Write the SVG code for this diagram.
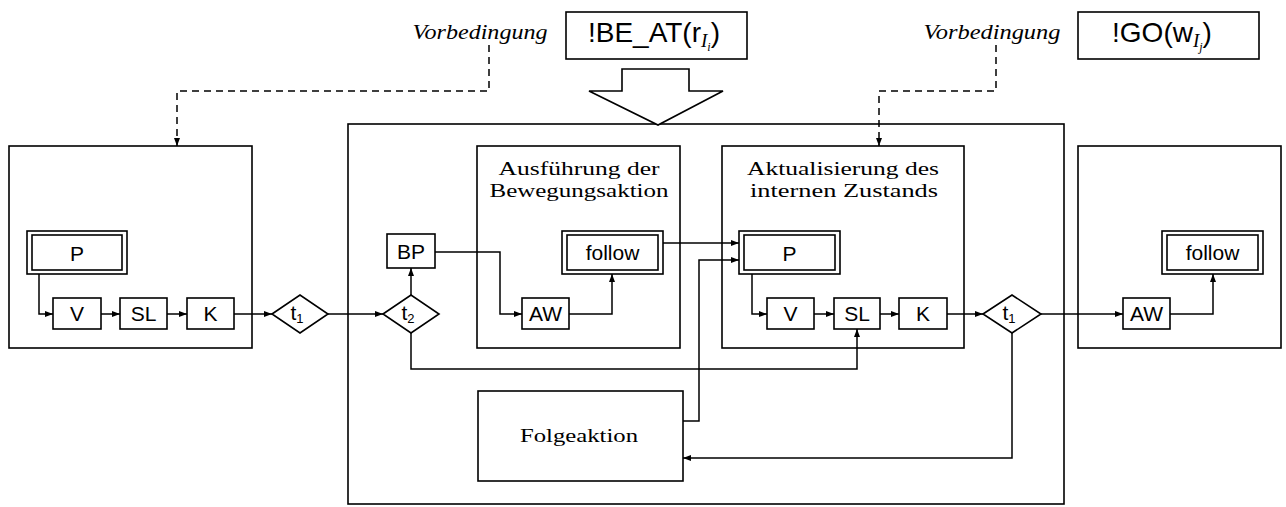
<svg xmlns="http://www.w3.org/2000/svg" width="1286" height="507" viewBox="0 0 1286 507">
<defs>
<marker id="ah" markerWidth="9" markerHeight="7" refX="8" refY="3.5" orient="auto" markerUnits="userSpaceOnUse">
<path d="M0,0.5 L8,3.5 L0,6.5 z" fill="#000"/>
</marker>
</defs>
<style>
.b{fill:#fff;stroke:#000;stroke-width:1.6}
.c{fill:none;stroke:#000;stroke-width:1.5;marker-end:url(#ah)}
.d{fill:none;stroke:#000;stroke-width:1.5;stroke-dasharray:7 5;marker-end:url(#ah)}
.s{font-family:"Liberation Sans",Arial,sans-serif;font-size:21px;text-anchor:middle;fill:#000}
.t{font-family:"Liberation Serif","Times New Roman",serif;font-size:19px;text-anchor:middle;fill:#000}
.i{font-family:"Liberation Serif","Times New Roman",serif;font-style:italic;font-size:20px;text-anchor:middle;fill:#000}
.big{font-family:"Liberation Sans",Arial,sans-serif;font-size:28px;text-anchor:middle;fill:#000}
.sub{font-family:"Liberation Serif","Times New Roman",serif;font-style:italic}
</style>
<rect width="1286" height="507" fill="#fff"/>

<g id="frames">
<rect id="leftState" class="b" x="9" y="146" width="243" height="202"/>
<rect id="midState" class="b" x="348" y="124" width="716" height="380"/>
<rect id="rightState" class="b" x="1078" y="146" width="203" height="202"/>
</g>

<g id="preconditions">
<text class="i" x="480" y="39" textLength="135" lengthAdjust="spacingAndGlyphs">Vorbedingung</text>
<text class="i" x="992" y="39" textLength="137" lengthAdjust="spacingAndGlyphs">Vorbedingung</text>
</g>

<g id="beat">
<rect class="b" x="566" y="12" width="181" height="47"/>
<text class="big" x="654" y="42">!BE_AT(r<tspan class="sub" font-size="19" dy="5">I</tspan><tspan class="sub" font-size="12" dy="4">i</tspan><tspan dy="-9">)</tspan></text>
</g>
<g id="go">
<rect class="b" x="1078" y="12" width="181" height="47"/>
<text class="big" x="1162" y="42">!GO(w<tspan class="sub" font-size="19" dy="5">I</tspan><tspan class="sub" font-size="12" dy="4">j</tspan><tspan dy="-9">)</tspan></text>
</g>
<g id="bigArrow">
<polygon class="b" points="622,69 689,69 689,91 723,91 658,125 589,91 622,91"/>
</g>

<g id="ausfuehrung">
<rect class="b" x="477" y="146" width="203" height="202"/>
<text class="t" x="579" y="175" textLength="161" lengthAdjust="spacingAndGlyphs">Ausführung der</text>
<text class="t" x="579" y="197" textLength="179" lengthAdjust="spacingAndGlyphs">Bewegungsaktion</text>
</g>
<g id="aktualisierung">
<rect class="b" x="722" y="146" width="242" height="202"/>
<text class="t" x="843" y="175" textLength="192" lengthAdjust="spacingAndGlyphs">Aktualisierung des</text>
<text class="t" x="844" y="197" textLength="188" lengthAdjust="spacingAndGlyphs">internen Zustands</text>
</g>
<g id="folgeaktion">
<rect class="b" x="478" y="391" width="205" height="90"/>
<text class="t" x="579" y="442" textLength="118" lengthAdjust="spacingAndGlyphs">Folgeaktion</text>
</g>

<g id="L_P"><rect class="b" x="27" y="231" width="100" height="43"/><rect class="b" x="32" y="235" width="90" height="35"/><text class="s" x="77" y="261">P</text></g>
<g id="L_V"><rect class="b" x="53" y="298" width="48" height="31"/><text class="s" x="77" y="321">V</text></g>
<g id="L_SL"><rect class="b" x="120" y="298" width="47" height="31"/><text class="s" x="143.5" y="321">SL</text></g>
<g id="L_K"><rect class="b" x="187" y="298" width="47" height="31"/><text class="s" x="210.5" y="321">K</text></g>
<g id="L_t1"><polygon class="b" points="272,314 300,295 328,314 300,333"/><text class="s" x="297" y="320" font-size="19">t<tspan font-size="13" dy="3">1</tspan></text></g>

<g id="M_t2"><polygon class="b" points="383,314 411,295 439,314 411,333"/><text class="s" x="408" y="320" font-size="19">t<tspan font-size="13" dy="3">2</tspan></text></g>
<g id="M_BP"><rect class="b" x="387" y="234" width="48" height="34"/><text class="s" x="411" y="259">BP</text></g>
<g id="M_AW"><rect class="b" x="522" y="298" width="47" height="31"/><text class="s" x="545.5" y="321">AW</text></g>
<g id="M_follow"><rect class="b" x="562" y="231" width="101" height="43"/><rect class="b" x="567" y="235" width="91" height="35"/><text class="s" x="612.5" y="260">follow</text></g>

<g id="A_P"><rect class="b" x="739" y="231" width="101" height="43"/><rect class="b" x="744" y="235" width="91" height="35"/><text class="s" x="789.5" y="261">P</text></g>
<g id="A_V"><rect class="b" x="767" y="298" width="47" height="31"/><text class="s" x="790.5" y="321">V</text></g>
<g id="A_SL"><rect class="b" x="834" y="298" width="46" height="31"/><text class="s" x="857" y="321">SL</text></g>
<g id="A_K"><rect class="b" x="899" y="298" width="48" height="31"/><text class="s" x="923" y="321">K</text></g>
<g id="A_t1"><polygon class="b" points="983,314 1012,295 1041,314 1012,333"/><text class="s" x="1009" y="320" font-size="19">t<tspan font-size="13" dy="3">1</tspan></text></g>

<g id="R_AW"><rect class="b" x="1123" y="298" width="47" height="31"/><text class="s" x="1146.5" y="321">AW</text></g>
<g id="R_follow"><rect class="b" x="1162" y="231" width="101" height="43"/><rect class="b" x="1167" y="235" width="91" height="35"/><text class="s" x="1212.5" y="260">follow</text></g>

<g id="connectors">
<path class="d" d="M489,45 V91 H177 V146"/>
<path class="d" d="M996,45 V91 H879 V146"/>
<path class="c" d="M39,274 V314 H53"/>
<path class="c" d="M101,314 H120"/>
<path class="c" d="M167,314 H187"/>
<path class="c" d="M234,314 H272"/>
<path class="c" d="M328,314 H383"/>
<path class="c" d="M411,295 V268"/>
<path class="c" d="M435,252 H500 V314 H522"/>
<path class="c" d="M569,314 H612 V274"/>
<path class="c" d="M663,243 H739"/>
<path class="c" d="M683,421 H699 V260 H739"/>
<path class="c" d="M411,333 V369 H857 V329"/>
<path class="c" d="M752,274 V314 H767"/>
<path class="c" d="M814,314 H834"/>
<path class="c" d="M880,314 H899"/>
<path class="c" d="M947,314 H983"/>
<path class="c" d="M1041,314 H1123"/>
<path class="c" d="M1170,314 H1213 V274"/>
<path class="c" d="M1012,333 V458 H683"/>
</g>
</svg>
